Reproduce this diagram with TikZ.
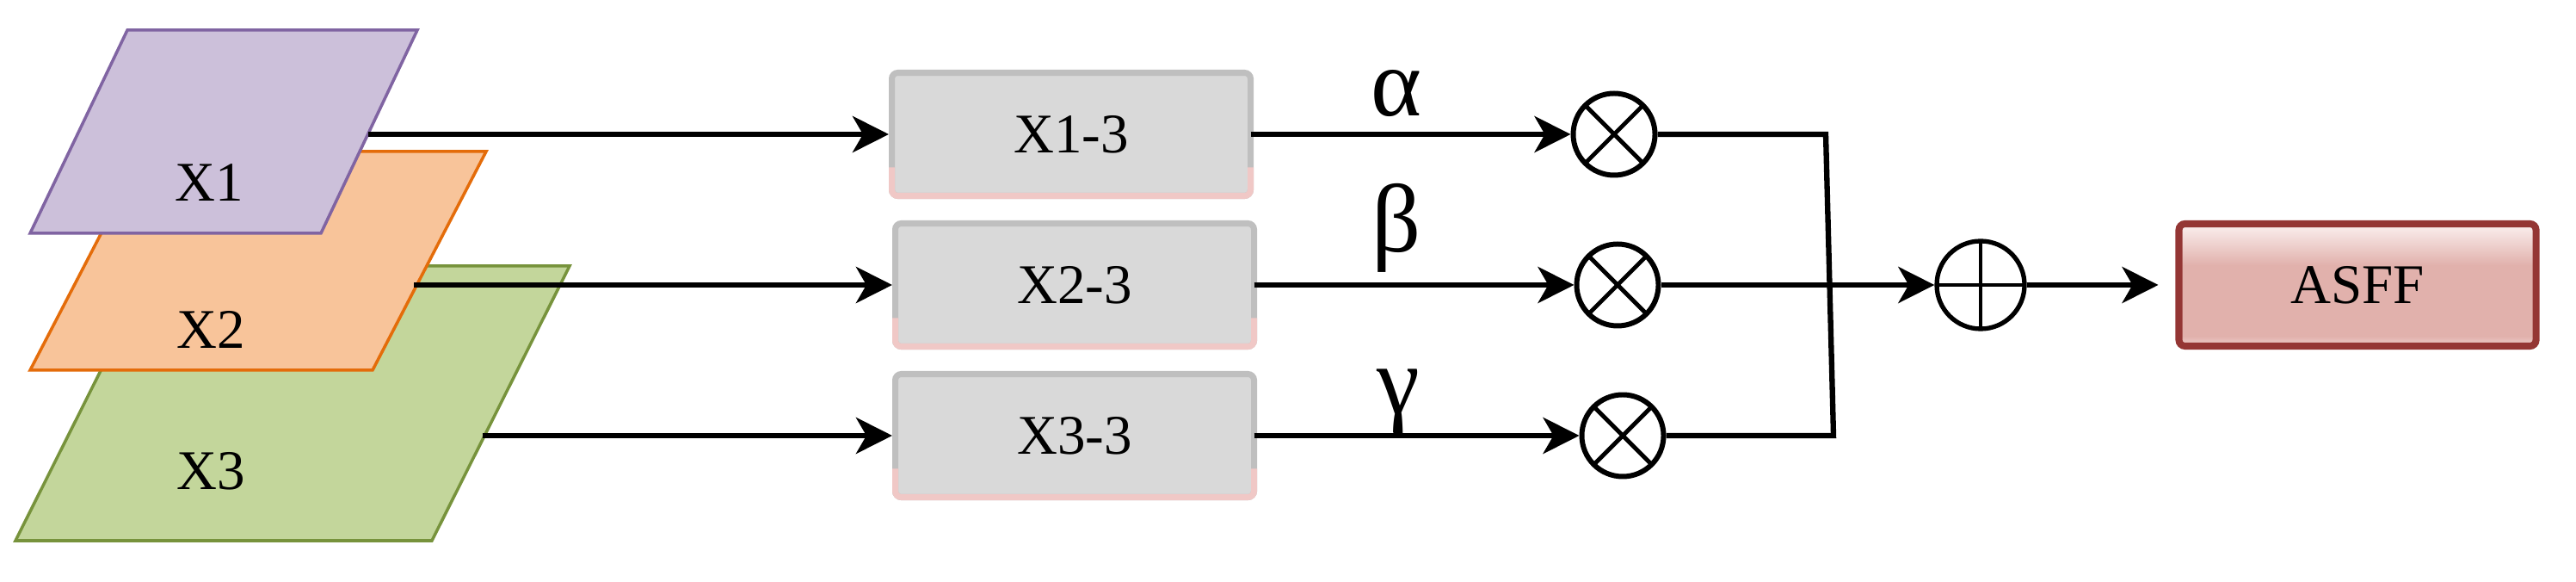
\documentclass[tikz,border=0pt]{standalone}
\usepackage{fontspec}
\setmainfont{Liberation Serif}
\usepackage{tikz}
\usetikzlibrary{arrows.meta,positioning,calc}
\usepackage{xcolor}
\definecolor{ink}{RGB}{0,0,0}
\definecolor{lvA}{RGB}{204,192,218}
\definecolor{lvAd}{RGB}{128,100,162}
\definecolor{lvB}{RGB}{248,196,154}
\definecolor{lvBd}{RGB}{228,108,10}
\definecolor{lvC}{RGB}{195,214,155}
\definecolor{lvCd}{RGB}{119,147,60}
\definecolor{boxF}{RGB}{217,217,217}
\definecolor{boxD}{RGB}{191,191,191}
\definecolor{boxP}{RGB}{240,200,198}
\definecolor{asffD}{RGB}{148,54,52}
\definecolor{asffT}{RGB}{251,240,239}
\definecolor{asffM}{RGB}{225,177,172}
\definecolor{asffL}{RGB}{238,208,205}
\pgfdeclareverticalshading{asffshade}{100bp}{color(0bp)=(asffL); color(25bp)=(asffL);
  color(29bp)=(asffM); color(58bp)=(asffM); color(75bp)=(asffT); color(100bp)=(asffT)}
\tikzset{
  lbl/.style={font=\fontsize{18.5}{22}\selectfont,inner sep=0pt},
  gk/.style={font=\fontsize{32}{36}\selectfont,inner sep=0pt,anchor=base},
  ar/.style={-{Stealth[length=4.2mm,width=4.2mm,inset=1.2mm]},line width=1.8pt},
  ln/.style={line width=1.8pt},
}

\begin{document}
\begin{tikzpicture}[
  lay/.style={line width=1pt,line join=miter},
  blk/.style={draw=boxD,fill=boxF,line width=2pt,rounded corners=2pt,outer sep=0pt,
              minimum width=4.17cm,minimum height=1.43cm,lbl},
  hd/.style ={draw=asffD,line width=2.3pt,rounded corners=2pt,shading=asffshade,
              outer sep=0pt,minimum width=4.15cm,minimum height=1.42cm,lbl},
  mul/.style={circle,draw=ink,line width=1.7pt,minimum size=9.5mm,inner sep=0pt,
              path picture={\draw[line width=1.4pt]
                (path picture bounding box.north west) -- (path picture bounding box.south east)
                (path picture bounding box.north east) -- (path picture bounding box.south west);}},
  add/.style={circle,draw=ink,line width=1.5pt,minimum size=10.2mm,inner sep=0pt,
              path picture={\draw[line width=1.1pt]
                (path picture bounding box.north) -- (path picture bounding box.south)
                (path picture bounding box.west) -- (path picture bounding box.east);}}]
  \useasboundingbox (0,0) rectangle (29.94,6.76);
  % left : stacked feature levels
  \filldraw[lay,draw=lvCd,fill=lvC] (0.18,0.48) -- (1.78,3.67) -- (6.62,3.67) -- (5.02,0.48) -- cycle;
  \filldraw[lay,draw=lvBd,fill=lvB] (0.35,2.46) -- (1.67,5.00) -- (5.65,5.00) -- (4.33,2.46) -- cycle;
  \filldraw[lay,draw=lvAd,fill=lvA] (0.35,4.05) -- (1.48,6.41) -- (4.85,6.41) -- (3.73,4.05) -- cycle;
  \node[lbl] (x1) at (2.43,4.64) {X1};
  \node[lbl] (x2) at (2.45,2.93) {X2};
  \node[lbl] (x3) at (2.45,1.29) {X3};
  \coordinate (x1o) at (4.28,5.20);
  \coordinate (x2o) at (4.81,3.45);
  \coordinate (x3o) at (5.61,1.70);
  % middle : resized levels
  \node[blk] (b1) at (12.45,5.20) {X1-3};
  \node[blk] (b2) at (12.49,3.45) {X2-3};
  \node[blk] (b3) at (12.49,1.70) {X3-3};
  \foreach \b in {b1,b2,b3}
    \draw[boxP,line width=2pt,rounded corners=2pt]
      ([yshift=3.3mm]\b.south west) |- (\b.south east) -- ([yshift=3.3mm]\b.south east);
  % weights and fusion
  \node[mul] (m1) at (18.76,5.20) {};
  \node[mul] (m2) at (18.80,3.45) {};
  \node[mul] (m3) at (18.86,1.70) {};
  \node[gk]  (ga) at (16.23,5.41) {α};
  \node[gk]  (gb) at (16.23,3.83) {β};
  \node[gk]  (gc) at (16.25,1.95) {γ};
  \coordinate (jt) at (21.22,5.20);
  \coordinate (jb) at (21.31,1.70);
  \node[add] (pl) at (23.02,3.45) {};
  \node[hd]  (asff) at (27.40,3.45) {ASFF};
  % edges
  \draw[ar,shorten >=1pt] (x1o) -- (b1);
  \draw[ar,shorten >=1pt] (x2o) -- (b2);
  \draw[ar,shorten >=1pt] (x3o) -- (b3);
  \draw[ar] (b1) -- (m1);
  \draw[ar] (b2) -- (m2);
  \draw[ar] (b3) -- (m3);
  \draw[ln] (m1) -- (jt) -- (jb) -- (m3);
  \draw[ar] (m2) -- (pl);
  \draw[ar,shorten >=2.4mm] (pl) -- (asff);
\end{tikzpicture}
\end{document}
